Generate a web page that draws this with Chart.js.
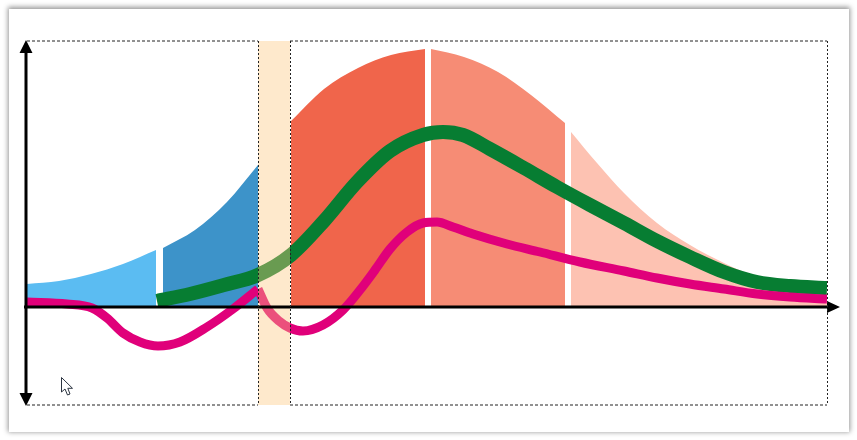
<!DOCTYPE html>
<html>
<head>
<meta charset="utf-8">
<style>
  html, body { margin: 0; padding: 0; background: #fff; }
  #wrap { position: relative; width: 857px; height: 440px; overflow: hidden; }
  #card { position: absolute; left: 9px; top: 9px; width: 840px; height: 423px; background: #fff; box-shadow: 0 -1px 5px 1px rgba(0,0,0,.42); }
  canvas { position: absolute; left: 0; top: 0; }
  #cursor { position: absolute; left: 60px; top: 376px; }
</style>
</head>
<body>
<div id="wrap">
  <div id="card"></div>
  <canvas id="lifeChart" width="857" height="440"></canvas>
  <svg id="cursor" width="16" height="22" viewBox="0 0 16 22">
    <path d="M1.5 1.5 L1.5 16 L5 13 L7.5 19 L10 18 L7.8 12.3 L12.5 12.3 Z" fill="#fff" stroke="#2b3440" stroke-width="1"/>
  </svg>
</div>
<script src="https://cdn.jsdelivr.net/npm/chart.js@4"></script>
<script>
// values, x runs 0-800, y has 0 on the baseline
const xMin = 0, xMax = 800;
const yMin = -98, yMax = 266;

const lightBlueX = [0, 32, 64, 96, 129];
const lightBlueY = [23, 26, 33, 43, 57];
const darkBlueX = [136, 168, 200, 231];
const darkBlueY = [59, 77, 105, 142];
const redX = [264, 297, 331, 364, 398];
const redY = [186, 218, 239, 252, 258];
const salmonX = [404, 437, 471, 504, 538];
const salmonY = [258, 250, 235, 212, 184];
const paleX = [544, 570, 597, 630, 663, 697, 730, 763, 800];
const paleY = [175, 144, 114, 84, 62, 44, 30, 22, 16];

const bandX = [231, 263];
const bandY = [yMax, yMax];

const greenX = [130, 163, 197, 231, 264, 297, 330, 363, 396, 416, 436, 463, 497, 530, 563, 597, 630, 663, 697, 730, 763, 800];
const greenY = [6, 13, 22, 32, 52, 86, 125, 156, 172, 175, 172, 158, 139, 120, 102, 84, 66, 50, 35, 25, 21, 19];
// the pink curve has a sharp peak at the left edge of the band, so two pieces
const pinkLeftX = [0, 40, 65, 80, 96, 113, 131, 153, 180, 206, 231];
const pinkLeftY = [5, 3, -1, -11, -26, -35, -39, -35, -20, -2, 18];
const pinkRightX = [231, 240, 252, 263, 276, 296, 316, 333, 348, 363, 380, 396, 410, 426, 446, 480, 513, 553, 597, 630, 663, 697, 730, 763, 800];
const pinkRightY = [18, -1, -14, -21, -24, -18, -3, 17, 37, 58, 75, 84, 85, 80, 73, 63, 55, 45, 36, 29, 23, 18, 13, 10, 8];

// top and bottom of the frame, broken where the band is
const frameX = [0, 231, 231, 263, 800];
const frameTop = [yMax, yMax, null, yMax, yMax];
const frameBottom = [yMin, yMin, null, yMin, yMin];

const toPoints = (xs, ys) => xs.map((x, i) => ({ x: x, y: ys[i] }));

const area = (xs, ys, color) => ({
  data: toPoints(xs, ys),
  backgroundColor: color,
  borderWidth: 0,
  fill: { value: 0 },
  cubicInterpolationMode: 'monotone',
  order: 5
});

const curve = (xs, ys, color, width, order) => ({
  data: toPoints(xs, ys),
  borderColor: color,
  borderWidth: width,
  borderCapStyle: 'butt',
  fill: false,
  cubicInterpolationMode: 'monotone',
  order: order
});

const frame = (ys) => ({
  data: toPoints(frameX, ys),
  borderColor: '#222',
  borderWidth: 1,
  borderDash: [3, 2],
  fill: false,
  spanGaps: false,
  clip: 2,
  order: 0
});

// black axes with arrow heads, placed from the scales
const axesPlugin = {
  id: 'axes',
  afterDatasetsDraw(chart) {
    const { ctx, scales } = chart;
    const x0 = scales.x.getPixelForValue(xMin);
    const x1 = scales.x.getPixelForValue(xMax);
    const y0 = scales.y.getPixelForValue(0);
    const yTop = scales.y.getPixelForValue(yMax);
    const yBottom = scales.y.getPixelForValue(yMin);
    const axisX = x0 - 1;
    ctx.save();
    ctx.strokeStyle = '#000';
    ctx.fillStyle = '#000';
    ctx.lineWidth = 3;
    ctx.beginPath();
    ctx.moveTo(x0 - 3, y0);
    ctx.lineTo(x1 + 2, y0);
    ctx.moveTo(axisX, yTop + 8);
    ctx.lineTo(axisX, yBottom - 8);
    ctx.stroke();
    ctx.beginPath();
    ctx.moveTo(axisX, yTop - 1);
    ctx.lineTo(axisX - 6.5, yTop + 12);
    ctx.lineTo(axisX + 6.5, yTop + 12);
    ctx.closePath();
    ctx.moveTo(axisX, yBottom + 1);
    ctx.lineTo(axisX - 6.5, yBottom - 12);
    ctx.lineTo(axisX + 6.5, yBottom - 12);
    ctx.closePath();
    ctx.moveTo(x1 + 13, y0);
    ctx.lineTo(x1, y0 - 6);
    ctx.lineTo(x1, y0 + 6);
    ctx.closePath();
    ctx.fill();
    ctx.restore();
  }
};

new Chart(document.getElementById('lifeChart'), {
  type: 'line',
  data: {
    datasets: [
      area(lightBlueX, lightBlueY, '#5bbcf2'),
      area(darkBlueX, darkBlueY, '#3d93c9'),
      area(redX, redY, '#f0654b'),
      area(salmonX, salmonY, '#f68c75'),
      area(paleX, paleY, '#fdc2b2'),
      curve(greenX, greenY, '#077d32', 14, 4),
      curve(pinkLeftX, pinkLeftY, '#e0007a', 9, 3),
      curve(pinkRightX, pinkRightY, '#e0007a', 9, 3),
      {
        data: toPoints(bandX, bandY),
        borderWidth: 0,
        backgroundColor: 'rgba(252, 200, 127, 0.4)',
        fill: 'start',
        order: 2
      },
      frame(frameTop),
      frame(frameBottom)
    ]
  },
  options: {
    responsive: false,
    animation: false,
    events: [],
    layout: { padding: { left: 27, right: 30, top: 41, bottom: 35 } },
    elements: { point: { radius: 0 } },
    plugins: { legend: { display: false }, tooltip: { enabled: false } },
    scales: {
      x: {
        type: 'linear',
        min: xMin,
        max: xMax,
        afterBuildTicks(axis) {
          axis.ticks = [{ value: bandX[0] }, { value: bandX[1] }, { value: xMax }];
        },
        ticks: { display: false },
        border: { display: false, dash: [2, 2] },
        grid: { color: '#222', lineWidth: 1, drawTicks: false, z: 1 }
      },
      y: {
        type: 'linear',
        display: false,
        min: yMin,
        max: yMax
      }
    }
  },
  plugins: [axesPlugin]
});
</script>
</body>
</html>
